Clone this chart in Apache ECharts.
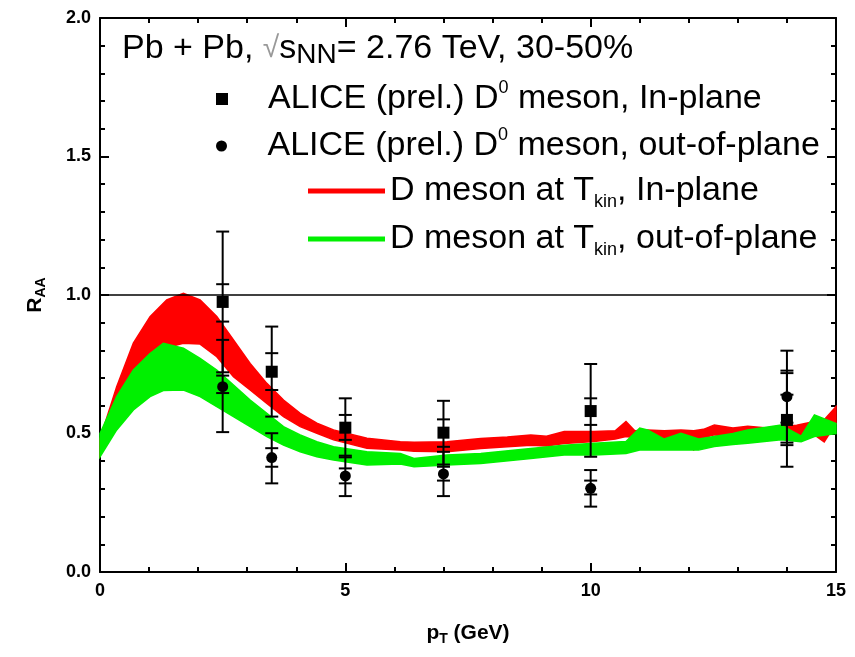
<!DOCTYPE html>
<html><head><meta charset="utf-8">
<script src="https://cdn.jsdelivr.net/npm/echarts@6/dist/echarts.min.js"></script>
<style>html,body{margin:0;padding:0;background:#fff}#c{width:855px;height:657px}</style>
</head><body><div id="c"></div>
<script>
// ---- Theory bands (D meson at T_kin) ----
const bandInX  = [0, 0.34, 0.68, 1.02, 1.36, 1.70, 2.04, 2.38, 2.72, 3.06, 3.40, 3.74, 4.08, 4.42, 4.76, 5.44, 6.12, 6.4, 7.07, 7.76, 8.3, 8.78, 9.1, 9.46, 10.07, 10.5, 10.72, 10.9, 11.16, 11.5, 11.84, 12.1, 12.3, 12.52, 12.9, 13.2, 13.6, 13.88, 14.2, 14.56, 14.76, 15];
const bandInHi = [0.48, 0.669, 0.826, 0.922, 0.982, 1.006, 0.982, 0.922, 0.838, 0.753, 0.681, 0.621, 0.573, 0.537, 0.513, 0.483, 0.470, 0.468, 0.470, 0.482, 0.487, 0.495, 0.490, 0.507, 0.507, 0.510, 0.543, 0.510, 0.513, 0.510, 0.513, 0.510, 0.515, 0.531, 0.520, 0.526, 0.520, 0.526, 0.530, 0.543, 0.550, 0.597];
const bandInLo = [0.42, 0.55, 0.68, 0.76, 0.81, 0.826, 0.823, 0.777, 0.705, 0.657, 0.609, 0.561, 0.525, 0.501, 0.477, 0.447, 0.440, 0.436, 0.434, 0.446, 0.452, 0.458, 0.455, 0.464, 0.471, 0.480, 0.489, 0.485, 0.482, 0.480, 0.478, 0.441, 0.485, 0.495, 0.490, 0.490, 0.490, 0.495, 0.490, 0.495, 0.470, 0.537];

const bandOutX  = [0, 0.34, 0.68, 1.02, 1.29, 1.70, 2.04, 2.38, 2.72, 3.06, 3.40, 3.74, 4.08, 4.42, 4.76, 5.44, 6.12, 6.4, 7.07, 7.76, 8.78, 9.46, 10.07, 10.72, 11.0, 11.16, 11.5, 11.84, 12.2, 12.52, 12.9, 13.2, 13.88, 14.29, 14.56, 15];
const bandOutHi = [0.50, 0.633, 0.729, 0.789, 0.826, 0.808, 0.771, 0.729, 0.675, 0.621, 0.573, 0.525, 0.495, 0.470, 0.452, 0.434, 0.428, 0.410, 0.422, 0.428, 0.446, 0.458, 0.465, 0.471, 0.520, 0.513, 0.480, 0.501, 0.480, 0.489, 0.500, 0.513, 0.531, 0.490, 0.567, 0.536];
const bandOutLo = [0.416, 0.513, 0.585, 0.633, 0.655, 0.657, 0.633, 0.597, 0.561, 0.525, 0.489, 0.458, 0.434, 0.416, 0.404, 0.386, 0.390, 0.380, 0.386, 0.392, 0.410, 0.422, 0.422, 0.428, 0.440, 0.440, 0.440, 0.440, 0.440, 0.453, 0.460, 0.465, 0.477, 0.470, 0.489, 0.500];

// ---- ALICE (prel.) D0 data ----
const dataPT = [2.5, 3.5, 5, 7, 10, 14];
const inVal     = [0.975, 0.723, 0.521, 0.503, 0.581, 0.549];
const inStatLo  = [0.721, 0.561, 0.414, 0.388, 0.416, 0.380];
const inStatHi  = [1.229, 0.886, 0.627, 0.618, 0.751, 0.718];
const inSysLo   = [0.904, 0.657, 0.477, 0.452, 0.531, 0.458];
const inSysHi   = [1.039, 0.790, 0.567, 0.551, 0.627, 0.640];
const outVal    = [0.669, 0.413, 0.347, 0.354, 0.302, 0.633];
const outStatLo = [0.505, 0.320, 0.274, 0.274, 0.236, 0.467];
const outStatHi = [0.838, 0.501, 0.420, 0.434, 0.368, 0.799];
const outSysLo  = [0.646, 0.380, 0.320, 0.330, 0.280, 0.539];
const outSysHi  = [0.709, 0.447, 0.374, 0.380, 0.330, 0.727];

const unityLevel = 1.0;
const xTickLabels = ['0', '5', '10', '15'];
const yTickLabels = ['0.0', '0.5', '1.0', '1.5', '2.0'];

const FONT = 'Liberation Sans';
const RED = '#ff0000', GREEN = '#00f000';

function bandSeries(name, xs, lo, hi, color, z) {
  return {
    name: name, type: 'custom', coordinateSystem: 'cartesian2d', z: z,
    itemStyle: { color: color },
    data: xs.map((x, i) => [x, lo[i], hi[i]]),
    encode: { x: 0, y: [1, 2] },
    renderItem: function (params, api) {
      if (params.dataIndex !== 0) return null;
      const pts = [];
      for (let i = 0; i < xs.length; i++) pts.push(api.coord([xs[i], hi[i]]));
      for (let i = xs.length - 1; i >= 0; i--) pts.push(api.coord([xs[i], lo[i]]));
      return { type: 'polygon', shape: { points: pts }, style: { fill: color, stroke: color, lineWidth: 1.5, opacity: 1 } };
    }
  };
}

function errSeries(name, vals, sl, sh, yl, yh) {
  return {
    name: name, type: 'custom', coordinateSystem: 'cartesian2d', z: 5,
    data: dataPT.map((x, i) => [x, vals[i], sl[i], sh[i], yl[i], yh[i]]),
    encode: { x: 0, y: [2, 3] },
    renderItem: function (params, api) {
      const x = api.value(0);
      const a = api.coord([x, api.value(2)]), b = api.coord([x, api.value(3)]);
      const c = api.coord([x, api.value(4)]), d = api.coord([x, api.value(5)]);
      const w = 6.5;
      const st = { stroke: '#000', lineWidth: 2 };
      const cap = p => ({ type: 'line', shape: { x1: p[0] - w, y1: p[1], x2: p[0] + w, y2: p[1] }, style: st });
      return { type: 'group', children: [
        { type: 'line', shape: { x1: a[0], y1: a[1], x2: b[0], y2: b[1] }, style: st },
        cap(a), cap(b), cap(c), cap(d)
      ]};
    }
  };
}

const baseRich = {
  n: { fontFamily: FONT, fontSize: 34, fontWeight: 'normal', color: '#000', lineHeight: 40 },
  sup: { fontFamily: FONT, fontSize: 18, fontWeight: 'normal', color: '#000', lineHeight: 18, verticalAlign: 'top' },
  sub: { fontFamily: FONT, fontSize: 18, fontWeight: 'normal', color: '#000', lineHeight: 16, verticalAlign: 'bottom' },
  subb: { fontFamily: FONT, fontSize: 28, fontWeight: 'normal', color: '#000', lineHeight: 24, verticalAlign: 'bottom' },
  rt: { fontFamily: FONT, fontSize: 30, fontWeight: 'normal', color: '#999', lineHeight: 40 }
};

const legendLabels = {
  'ALICE in':  '{n|ALICE (prel.) D}{sup|0}{n| meson, In-plane}',
  'ALICE out': '{n|ALICE (prel.) D}{sup|0}{n| meson, out-of-plane}',
  'Band in':   '{n|D meson at T}{sub|kin}{n|, In-plane}',
  'Band out':  '{n|D meson at T}{sub|kin}{n|, out-of-plane}'
};

function mkLegend(name, icon, left, top, w, h) {
  return {
    show: true, selectedMode: false, left: left, top: top, padding: 0,
    itemWidth: w, itemHeight: h, symbolKeepAspect: true,
    data: [{ name: name, icon: icon }],
    formatter: n => legendLabels[n],
    textStyle: { rich: baseRich, padding: 0 }
  };
}

const chart = echarts.init(document.getElementById('c'), null, { renderer: 'canvas' });

function axisCommon() {
  return {
    axisLine: { show: true, onZero: false, lineStyle: { color: '#000', width: 2 } },
    axisTick: { show: true, inside: true, length: 9, lineStyle: { color: '#000', width: 2 } },
    minorTick: { show: true, splitNumber: 5, length: 5, lineStyle: { color: '#000', width: 2 } },
    splitLine: { show: false }
  };
}

chart.setOption({
  animation: false,
  backgroundColor: '#fff',
  title: {
    text: '{n|Pb + Pb, }{rt|√}{n|s}{subb|NN}{n|= 2.76 TeV, 30-50%}',
    left: 122, top: 29, padding: 0,
    textStyle: { fontWeight: 'normal', rich: baseRich }
  },
  grid: { left: 100, right: 19, top: 18, bottom: 85, containLabel: false },
  legend: [
    mkLegend('ALICE in', 'path://M0,0H10V10H0Z', 216, 79, 82, 12),
    mkLegend('ALICE out', 'circle', 216, 126, 82, 11),
    mkLegend('Band in', 'rect', 308, 174, 77, 5),
    mkLegend('Band out', 'rect', 308, 222, 77, 5)
  ],
  xAxis: [
    Object.assign({
      type: 'value', min: 0, max: 15, interval: 5, position: 'bottom',
      axisLabel: { show: true, margin: 10, color: '#000', fontFamily: FONT, fontWeight: 'bold', fontSize: 18,
        formatter: v => xTickLabels[Math.round(v / 5)] },
      name: '{p|p}{t|T}{g| (GeV)}', nameLocation: 'middle', nameGap: 48,
      nameTextStyle: { rich: {
        p: { fontFamily: FONT, fontSize: 21, fontWeight: 'bold', color: '#000', lineHeight: 26 },
        t: { fontFamily: FONT, fontSize: 14, fontWeight: 'bold', color: '#000', lineHeight: 12, verticalAlign: 'bottom' },
        g: { fontFamily: FONT, fontSize: 21, fontWeight: 'bold', color: '#000', lineHeight: 26 }
      } }
    }, axisCommon()),
    Object.assign({
      type: 'value', min: 0, max: 15, interval: 5, position: 'top',
      axisLabel: { show: false }
    }, axisCommon())
  ],
  yAxis: [
    Object.assign({
      type: 'value', min: 0, max: 2, interval: 0.5, position: 'left',
      axisLabel: { show: true, margin: 9, color: '#000', fontFamily: FONT, fontWeight: 'bold', fontSize: 18,
        formatter: v => yTickLabels[Math.round(v / 0.5)] },
      name: '{r|R}{s|AA}', nameLocation: 'middle', nameGap: 52, nameRotate: 90,
      nameTextStyle: { rich: {
        r: { fontFamily: FONT, fontSize: 21, fontWeight: 'bold', color: '#000', lineHeight: 26 },
        s: { fontFamily: FONT, fontSize: 14, fontWeight: 'bold', color: '#000', lineHeight: 12, verticalAlign: 'bottom' }
      } }
    }, axisCommon()),
    Object.assign({
      type: 'value', min: 0, max: 2, interval: 0.5, position: 'right',
      axisLabel: { show: false }
    }, axisCommon())
  ],
  series: [
    bandSeries('Band in', bandInX, bandInLo, bandInHi, RED, 1),
    bandSeries('Band out', bandOutX, bandOutLo, bandOutHi, GREEN, 2),
    {
      name: 'unity', type: 'line', z: 3, silent: true, showSymbol: false,
      data: [[0, unityLevel], [15, unityLevel]],
      lineStyle: { color: '#000', width: 1.5 }
    },
    errSeries('err in', inVal, inStatLo, inStatHi, inSysLo, inSysHi),
    errSeries('err out', outVal, outStatLo, outStatHi, outSysLo, outSysHi),
    {
      name: 'ALICE in', type: 'scatter', z: 6, symbol: 'rect', symbolSize: 12,
      itemStyle: { color: '#000', opacity: 1 },
      data: dataPT.map((x, i) => [x, inVal[i]])
    },
    {
      name: 'ALICE out', type: 'scatter', z: 6, symbol: 'circle', symbolSize: 11,
      itemStyle: { color: '#000', opacity: 1 },
      data: dataPT.map((x, i) => [x, outVal[i]])
    }
  ]
});
</script>
</body></html>
